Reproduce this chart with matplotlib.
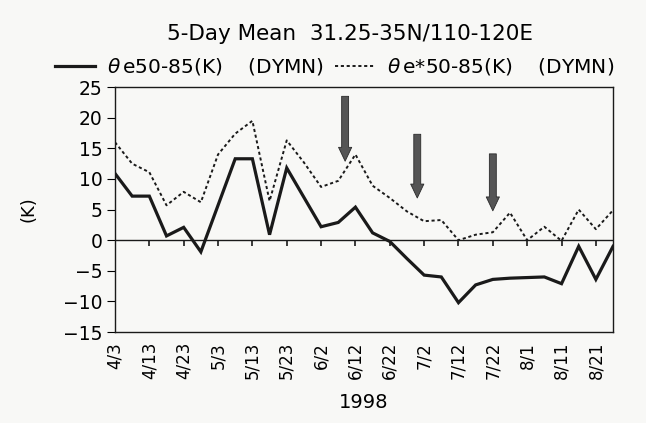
import numpy as np
import matplotlib
matplotlib.use("Agg")
import matplotlib.pyplot as plt

# 5-day means, 4/3 .. 8/26 1998
dates = ["4/3", "4/8", "4/13", "4/18", "4/23", "4/28", "5/3", "5/8", "5/13", "5/18",
         "5/23", "5/28", "6/2", "6/7", "6/12", "6/17", "6/22", "6/27", "7/2", "7/7",
         "7/12", "7/17", "7/22", "7/27", "8/1", "8/6", "8/11", "8/16", "8/21", "8/26"]
theta_e = [10.9, 7.2, 7.2, 0.7, 2.1, -1.9, 5.7, 13.3, 13.3, 0.9,
           11.8, 7.0, 2.2, 2.9, 5.4, 1.2, -0.2, -3.0, -5.7, -6.0,
           -10.2, -7.3, -6.4, -6.2, -6.1, -6.0, -7.1, -1.0, -6.4, -1.0]
theta_es = [16.0, 12.5, 11.1, 5.7, 7.9, 6.2, 14.0, 17.4, 19.5, 6.4,
            16.3, 12.7, 8.7, 9.7, 14.0, 8.9, 6.9, 4.7, 3.1, 3.3,
            0.0, 0.9, 1.3, 4.5, 0.0, 2.2, -0.1, 5.0, 1.8, 4.9]

# arrows marking events: x index, top value, tip value
arrow_x = [13.4, 17.6, 22.0]
arrow_top = [23.5, 17.3, 14.1]
arrow_tip = [12.9, 6.9, 4.8]

x = np.arange(len(dates))
bg = "#f8f8f6"

fig = plt.figure(figsize=(6.46, 4.23), dpi=100, facecolor=bg)
ax = fig.add_axes([0.178, 0.215, 0.771, 0.579], facecolor=bg)

l1, = ax.plot(x, theta_e, color="#1a1a1a", lw=2.3, solid_joinstyle="miter")
l2, = ax.plot(x, theta_es, color="#1a1a1a", lw=1.4, linestyle=(0, (1.6, 1.4)))

ax.axhline(0, color="#1a1a1a", lw=1.0)
# tick marks hanging from the zero line
ax.vlines(x[2::2], -0.9, 0, color="#1a1a1a", lw=1.2)

for xa, yt, yb in zip(arrow_x, arrow_top, arrow_tip):
    ax.annotate("", xy=(xa, yb), xytext=(xa, yt),
                arrowprops=dict(arrowstyle="simple,head_width=0.95,head_length=1.0,tail_width=0.5",
                                fc="#555555", ec="#2a2a2a", lw=0.6, shrinkA=0, shrinkB=0))

ax.set_xlim(0, len(dates) - 1)
ax.set_ylim(-15, 25)
ax.set_yticks(np.arange(-15, 26, 5))
ax.set_xticks(x[::2])
ax.set_xticklabels(dates[::2], rotation=90, fontsize=12)
ax.tick_params(axis="x", length=0, pad=7)
ax.tick_params(axis="y", direction="out", length=6, labelsize=13.5, pad=3)
for s in ax.spines.values():
    s.set_color("#1a1a1a")
    s.set_linewidth(1.0)

ax.set_ylabel("(K)", fontsize=13, labelpad=18)
ax.set_xlabel("1998", fontsize=14, labelpad=10)

fig.text(0.542, 0.92, "5-Day Mean  31.25-35N/110-120E", ha="center", va="center", fontsize=15.5)
ax.legend([l1, l2], ["$\\theta\\,$e50-85(K)    (DYMN)", "$\\theta\\,$e*50-85(K)    (DYMN)"],
          loc="center", bbox_to_anchor=(0.441, 1.083), ncol=2, frameon=False,
          fontsize=14.5, handlelength=2.0, handletextpad=0.6, columnspacing=0.5,
          borderpad=0, borderaxespad=0)

fig.savefig("out.png", dpi=100, facecolor=bg)
